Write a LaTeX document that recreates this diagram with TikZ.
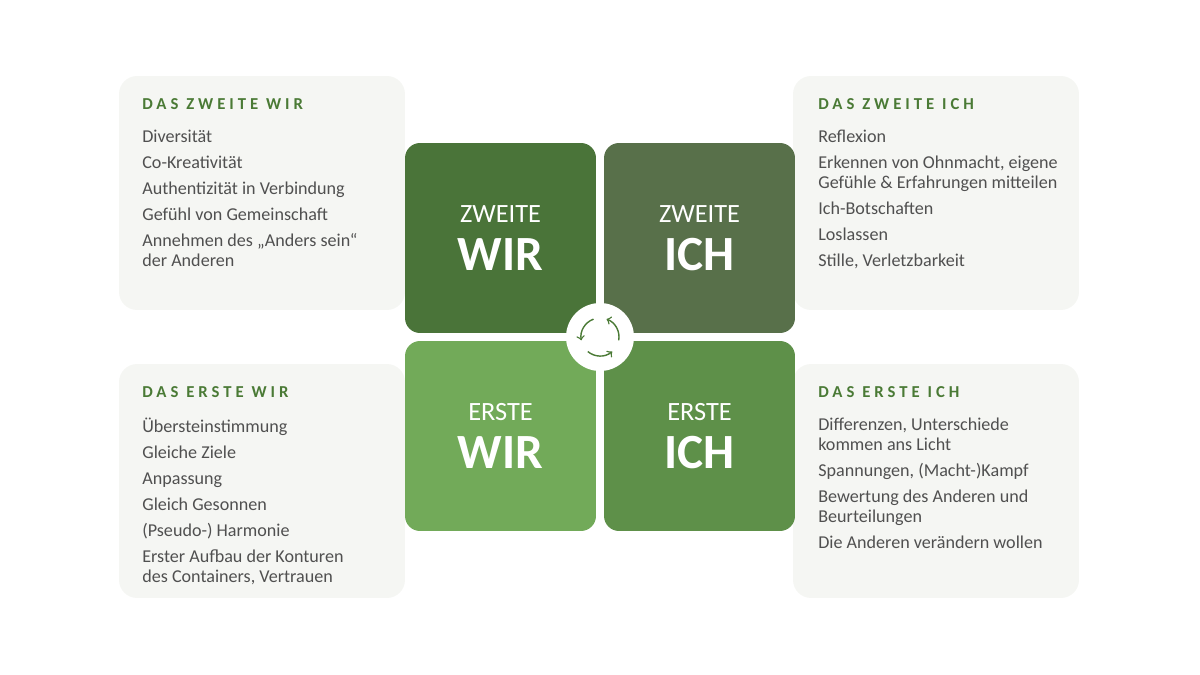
\documentclass[tikz,border=0pt]{standalone}
\usepackage{fontspec}
\setmainfont{Carlito}
\usetikzlibrary{positioning}
\definecolor{boxgray}{HTML}{F5F6F3}
\definecolor{headgreen}{HTML}{4A7A35}
\definecolor{bodygray}{HTML}{505050}
\definecolor{zwwir}{HTML}{4A7439}
\definecolor{zwich}{HTML}{58704A}
\definecolor{erwir}{HTML}{72AA59}
\definecolor{erich}{HTML}{5E9049}
\tikzset{
  infobox/.style={fill=boxgray, rounded corners=0.36cm, minimum width=5.72cm, minimum height=4.68cm, inner sep=0pt},
  phase/.style={rounded corners=0.3cm, minimum width=3.82cm, minimum height=3.8cm, inner sep=0pt},
  phaselabel/.style={text=white, align=center, font=\fontsize{15pt}{18pt}\selectfont},
  head/.style={anchor=north west, text=headgreen, inner sep=0pt, font=\bfseries\fontsize{9.5pt}{11pt}\selectfont\addfontfeatures{LetterSpace=24}},
  items/.style={text=bodygray, align=left, inner sep=0pt, font=\fontsize{10.3pt}{11.4pt}\selectfont},
}
\newcommand{\phasebig}[1]{{\bfseries\fontsize{28pt}{30pt}\selectfont #1}}
\begin{document}
\begin{tikzpicture}[x=0.02cm, y=-0.02cm]
    \useasboundingbox (0,0) rectangle (1200,675);
    % Text boxes
    \node[infobox] (zwwirbox) at (262,193) {};
    \node[infobox] (erwirbox) at (262,481) {};
    \node[infobox] (zwichbox) at (936,193) {};
    \node[infobox] (erichbox) at (936,481) {};
    % Phases
    \node[phase, fill=zwwir] (zwwir) at (500.5,238) {};
    \node[phase, fill=zwich] (zwich) at (699.5,238) {};
    \node[phase, fill=erwir] (erwir) at (500.5,436) {};
    \node[phase, fill=erich] (erich) at (699.5,436) {};
    \node[phaselabel] at (zwwir) {ZWEITE\\[8pt]\phasebig{WIR}};
    \node[phaselabel] at (zwich) {ZWEITE\\[8pt]\phasebig{ICH}};
    \node[phaselabel] at (erwir) {ERSTE\\[8pt]\phasebig{WIR}};
    \node[phaselabel] at (erich) {ERSTE\\[8pt]\phasebig{ICH}};
    % Cycle
    \node[circle, fill=white, minimum size=1.36cm] (cycle) at (600,337) {};
    \foreach \a in {90,210,330}
      \draw[headgreen, line width=0.8pt, ->] (cycle.center) ++(\a+20:0.38cm) arc (\a+20:\a+100:0.38cm);
    % Headings
    \node[head] (zwwirhead) at (142,98) {DAS ZWEITE WIR};
    \node[head] (erwirhead) at (142,386) {DAS ERSTE WIR};
    \node[head] (zwichhead) at (818,98) {DAS ZWEITE ICH};
    \node[head] (erichhead) at (818,386) {DAS ERSTE ICH};
    % Lists
    \node[items, below=0.4cm of zwwirhead.south west, anchor=north west] {Diversität\\[3.4pt]Co-Kreativität\\[3.4pt]Authentizität in Verbindung\\[3.4pt]Gefühl von Gemeinschaft\\[3.4pt]Annehmen des „Anders sein“\\der Anderen};
    \node[items, below=0.4cm of erwirhead.south west, anchor=north west] {Übersteinstimmung\\[3.4pt]Gleiche Ziele\\[3.4pt]Anpassung\\[3.4pt]Gleich Gesonnen\\[3.4pt](Pseudo-) Harmonie\\[3.4pt]Erster Aufbau der Konturen\\des Containers, Vertrauen};
    \node[items, below=0.4cm of zwichhead.south west, anchor=north west] {Reflexion\\[3.4pt]Erkennen von Ohnmacht, eigene\\Gefühle \& Erfahrungen mitteilen\\[3.4pt]Ich-Botschaften\\[3.4pt]Loslassen\\[3.4pt]Stille, Verletzbarkeit};
    \node[items, below=0.4cm of erichhead.south west, anchor=north west] {Differenzen, Unterschiede\\kommen ans Licht\\[3.4pt]Spannungen, (Macht-)Kampf\\[3.4pt]Bewertung des Anderen und\\Beurteilungen\\[3.4pt]Die Anderen verändern wollen};
\end{tikzpicture}
\end{document}
